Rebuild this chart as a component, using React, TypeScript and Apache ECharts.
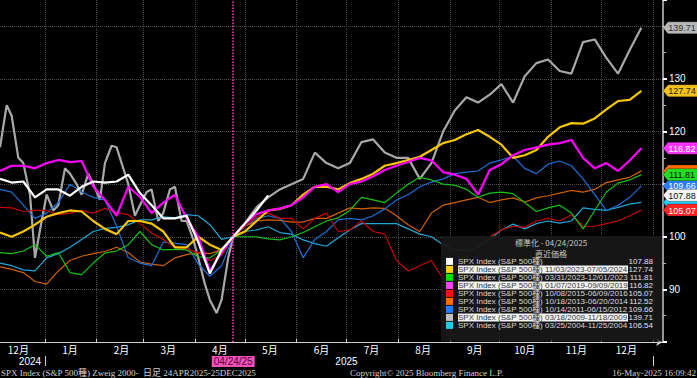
import React, { useEffect, useRef } from "react";
import * as echarts from "echarts";

// ---------- axis categories (calendar days, Dec 5 2024 .. Jan 7 2026) ----------
const START_UTC = Date.UTC(2024, 11, 5);
const DAY_MS = 86400000;
const DAY_COUNT = 399;
const SAMPLE_STEP = 7; // one value per week, starting at the first category
const MID_OFFSET = 4; // mid-week extra readings (only for the very jagged 2009 line)

const pad = (n: number) => (n < 10 ? "0" + n : "" + n);
const categories: string[] = Array.from({ length: DAY_COUNT }, (_, i) => {
  const d = new Date(START_UTC + i * DAY_MS);
  return `${d.getUTCFullYear()}-${pad(d.getUTCMonth() + 1)}-${pad(d.getUTCDate())}`;
});

const monthLabels = ["1月", "2月", "3月", "4月", "5月", "6月", "7月", "8月", "9月", "10月", "11月", "12月"];
const monthLabelDay = "16";
const yearLabelAt: Record<string, string> = { "2024-12-23": "2024", "2025-07-01": "2025" };
const anchorDate = "2025-04-24";
const anchorLabel = "04/24/25";

// ---------- y axis ----------
const yMin = 80;
const yMax = 145;
const yInterval = 10;

// ---------- series (normalised to 100 on 04/24/2025), weekly samples ----------
const currentSpx = [111, 110.3, 110.5, 107.5, 109, 109, 107.8, 109.5, 110.5, 110.3,
  110.5, 111.8, 108.3, 106, 103.5, 103.5, 104, 99, 93, 97.5,
  100, 102.5, 105, 107.88];
const analog2023b = [100.8, 100, 101, 102.3, 103.8, 104.5, 105, 104.8, 103, 101.5,
  100.5, 103, 103, 102.5, 101, 98, 98, 100, 98.5, 97.5,
  100, 101, 103, 105, 105.3, 106, 108, 109.5, 109.5, 109,
  110.2, 111, 112, 113.5, 114, 114.6, 115.2, 116.5, 117.8, 118.4,
  119.5, 120.3, 119, 117.5, 115, 115.5, 116.5, 119, 120.8, 121.6,
  121.5, 122.5, 124.2, 125.8, 126, 127.74];
const analog2023a = [97, 96.8, 97.3, 98.5, 96.3, 97, 93.2, 92.8, 95, 96.9,
  97.3, 98.5, 101, 98.5, 97.5, 97.6, 97.5, 96.2, 96, 97.5,
  100, 100, 100, 99.6, 99.4, 100, 100.8, 101.9, 103, 103.6,
  105, 107.5, 107, 106.5, 108.3, 110, 111.3, 110.8, 110, 109.8,
  109, 107.5, 108.3, 108.5, 108.2, 106.5, 104.8, 105.5, 106, 104.5,
  101.5, 105, 108.5, 110.2, 110.8, 111.81];
const analog2019 = [112.5, 113.5, 113.5, 113, 114, 114.6, 114.2, 114.4, 109.5, 107,
  104, 109.5, 107.6, 104.5, 106.5, 108, 103.5, 100, 93.5, 97,
  100, 102.5, 104.3, 105, 105.4, 106, 107.5, 109.5, 110, 108.5,
  110, 110.5, 111.5, 112.7, 113.5, 114.2, 115, 114.5, 112.3, 111.8,
  111, 108, 112.7, 113.8, 115.5, 116.5, 117, 117.5, 117.8, 118.4,
  115, 113, 114, 112.5, 114.5, 116.82];
const analog2015 = [105.6, 105.5, 104.8, 105, 105, 104.2, 104.5, 105, 104.5, 105.4,
  104.6, 104.2, 102.5, 100.7, 99.5, 98, 97.7, 97, 95.5, 96.5,
  100, 102, 103.8, 104.5, 103.5, 103.5, 101.5, 103.5, 104.5, 101,
  101.3, 103, 101, 100.5, 95.5, 93.5, 94.5, 95.5, 92, 94.5,
  96.5, 98.5, 100, 101.3, 102, 101.8, 103, 103.5, 103, 104.2,
  102, 102, 102.5, 103, 104, 105.07];
const analog2013 = [94.3, 93.8, 93.2, 91.5, 91, 93.5, 95.5, 96.3, 96.8, 97.2,
  98, 97, 95.2, 94.8, 94.5, 96, 96.6, 97, 96.8, 97.5,
  100, 102, 103, 103.2, 103.1, 102.8, 102.8, 103.5, 103.5, 104.5,
  105.5, 105.3, 105.5, 105.4, 104, 102.3, 101, 104.5, 106, 106.5,
  107, 107.5, 106.5, 107, 107.4, 106.6, 107.4, 107.8, 108.3, 108.8,
  108.5, 109, 110.3, 110.8, 111.3, 112.52];
const analog2011 = [109, 108.5, 106, 103.5, 104.5, 106.5, 110, 108.5, 107.5, 107,
  102, 96, 95, 94.5, 99, 98.8, 98.5, 94.8, 92.5, 94.5,
  100, 102, 103.5, 104, 103.5, 101, 96, 99.5, 101, 103.2,
  103.5, 103.2, 104, 105.3, 107, 108, 109.5, 110.4, 111, 112,
  112.3, 112.5, 114, 114.6, 115.3, 113, 112, 113.8, 114.4, 113.5,
  111, 108, 105, 106, 107.5, 109.66];
const analog2009 = [117, 123, 114, 96, 108, 106, 112, 108, 110, 114,
  117, 110, 106, 109, 104.5, 109.5, 103, 96, 88, 88,
  100, 102.6, 105.6, 107.5, 109, 110, 111, 116, 114, 113,
  114, 118, 118.5, 116, 115, 115, 111, 114, 120, 124,
  126.5, 125.5, 127, 129, 125.5, 130.5, 133, 133.7, 131.5, 131,
  137, 137.5, 134, 131, 135.5, 139.71];
// mid-week readings of the 2009 line (4 days after each weekly sample), Dec-Apr part
const analog2009Mid = [125, 115, 108, 103, 105, 113, 110, 112, 107, 117.3,
  113, 104, 108.5, 103, 109, 103, 99.5, 91, 85.5, 96];
const analog2004 = [95, 94.5, 93.7, 93.5, 96, 96.8, 98, 99.5, 101, 101.6,
  101.8, 102.3, 103.2, 103.2, 103.8, 103.6, 104.2, 104, 102.3, 99.5,
  100, 101, 101.3, 101.9, 100.8, 100.5, 99.4, 98.7, 98.2, 99.8,
  101.3, 102.5, 102.5, 102.5, 102.5, 101.5, 100.5, 100, 98.5, 97.5,
  97.3, 98, 99.5, 101.3, 102.4, 101.5, 102.5, 103, 102.6, 103,
  105.5, 105.2, 105, 105.6, 106.2, 106.54];

const seriesNames = [
  "SPX Index (S&P 500種)",
  "SPX Index (S&P 500種) 11/03/2023-07/05/2024",
  "SPX Index (S&P 500種) 03/31/2023-12/01/2023",
  "SPX Index (S&P 500種) 01/07/2019-09/09/2019",
  "SPX Index (S&P 500種) 10/08/2015-06/09/2016",
  "SPX Index (S&P 500種) 10/18/2013-06/20/2014",
  "SPX Index (S&P 500種) 10/14/2011-06/15/2012",
  "SPX Index (S&P 500種) 03/18/2009-11/18/2009",
  "SPX Index (S&P 500種) 03/25/2004-11/25/2004",
];
const seriesValues = [currentSpx, analog2023b, analog2023a, analog2019, analog2015, analog2013, analog2011, analog2009, analog2004];
const seriesMidValues: (number[] | null)[] = [null, null, null, null, null, null, null, analog2009Mid, null];
const lineColors = ["#ffffff", "#f7c600", "#14c214", "#ff00ff", "#c80000", "#d06000", "#1a6fd8", "#a8a8a8", "#22a6d6"];
const swatchColors = ["#ffffff", "#ffcc22", "#00e000", "#ff44ff", "#ff1010", "#ff6a00", "#1a80ff", "#c0c0c0", "#22c8f0"];
const lineWidths = [2.2, 2.2, 1.2, 2.2, 1.2, 1.2, 1.2, 2.2, 1.2];
const highlightedRows = [1, 3, 7];
const drawOrder = [7, 8, 5, 6, 4, 2, 1, 3, 0];
const tagFill = ["#f6f6f6", "#f2c21a", "#22dd22", "#ff33ff", "#ff2222", "#ff6a00", "#2c7cff", "#b8b8b8", "#22c8f0"];
const tagText = ["#111111", "#222222", "#111111", "#ffffff", "#ffffff", "#222222", "#ffffff", "#333333", "#111111"];
const tagOrder = [5, 8, 6, 2, 0, 4, 3, 1, 7];
const hiddenTagText = [5, 8]; // fully covered by the neighbouring tags

const legendTitle = "標準化 - 04/24/2025";
const legendSubtitle = "直近価格";
const footerLeft = "SPX Index (S&P 500種) Zweig 2000-  日足 24APR2025-25DEC2025";
const footerMid = "Copyright© 2025 Bloomberg Finance L.P.";
const footerRight = "16-May-2025 16:09:42";

const FONT_SANS = '"Liberation Sans", "Noto Sans CJK JP", sans-serif';
const FONT_CJK = '"Noto Sans CJK JP", "Liberation Sans", sans-serif';
const FONT_SERIF = '"Liberation Serif", "Noto Sans CJK JP", serif';

const GRID_RIGHT = 34;
const GRID_BOTTOM = 36;

const lastValue = (i: number) => seriesValues[i][seriesValues[i].length - 1];
const dayOf = (i: number) => categories[i].slice(8, 10);

function seriesData(i: number) {
  const pts: [number, number][] = seriesValues[i].map((v, k) => [k * SAMPLE_STEP, v] as [number, number]);
  const mid = seriesMidValues[i];
  if (mid) mid.forEach((v, k) => pts.push([k * SAMPLE_STEP + MID_OFFSET, v]));
  pts.sort((a, b) => a[0] - b[0]);
  return pts;
}

function buildOption() {
  const series = drawOrder.map((i) => ({
    type: "line",
    name: seriesNames[i],
    data: seriesData(i),
    symbol: "none",
    showSymbol: false,
    smooth: false,
    itemStyle: { color: swatchColors[i] },
    lineStyle: { color: lineColors[i], width: lineWidths[i] },
    emphasis: { disabled: true },
    markLine:
      i === 0
        ? {
            silent: true,
            symbol: ["none", "none"],
            data: [{ xAxis: anchorDate }],
            lineStyle: { color: "#ff3cc4", type: "dotted", width: 1.5 },
            label: {
              show: true,
              position: "start",
              formatter: anchorLabel,
              backgroundColor: "#f052b8",
              color: "#5a0038",
              fontSize: 10,
              fontFamily: FONT_SANS,
              padding: [1, 2, 0, 2],
              distance: 14,
            },
          }
        : undefined,
  }));

  const rich = {
    n: { width: 170, color: "#d8d8d8", fontSize: 8, lineHeight: 8.6, fontFamily: FONT_SANS },
    h: { width: 170, color: "#3a3a3a", backgroundColor: "#f2f2f2", fontSize: 8, lineHeight: 8.6, fontFamily: FONT_SANS },
    v: { width: 25, align: "right", color: "#e0e0e0", fontSize: 8, lineHeight: 8.6, fontFamily: FONT_SANS },
  };

  const lastValues = seriesValues.map((_, i) => lastValue(i));

  return {
    animation: false,
    backgroundColor: "#000000",
    grid: { left: 0, right: GRID_RIGHT, top: 0, bottom: GRID_BOTTOM, containLabel: false },
    legend: {
      data: seriesNames.map((n, i) => ({ name: n, itemStyle: { color: swatchColors[i] } })),
      orient: "vertical",
      left: 446,
      top: 257.4,
      itemWidth: 7,
      itemHeight: 7,
      itemGap: 0,
      padding: 0,
      icon: "rect",
      selectedMode: false,
      z: 6,
      formatter: (name: string) => {
        const i = seriesNames.indexOf(name);
        const s = highlightedRows.indexOf(i) >= 0 ? "h" : "n";
        return `{${s}|${name}}{v|${lastValue(i).toFixed(2)}}`;
      },
      textStyle: { rich },
    },
    xAxis: [
      {
        type: "category",
        data: categories,
        boundaryGap: false,
        axisLine: { show: true, lineStyle: { color: "#d0d0d0", width: 1.2 }, symbol: ["none", "arrow"], symbolSize: [6, 7] },
        axisTick: {
          show: true,
          inside: true,
          length: 3,
          interval: (i: number) => dayOf(i) === "01",
          lineStyle: { color: "#d0d0d0" },
        },
        axisLabel: {
          show: true,
          interval: (i: number) => dayOf(i) === monthLabelDay,
          formatter: (v: string) => monthLabels[parseInt(v.slice(5, 7), 10) - 1],
          color: "#ffffff",
          fontSize: 10,
          fontFamily: FONT_CJK,
          margin: 2,
        },
        splitLine: {
          show: true,
          interval: (i: number) => dayOf(i) === "01",
          lineStyle: { color: "#4c4c4c", type: "dotted", width: 1 },
        },
      },
      {
        type: "category",
        data: categories,
        boundaryGap: false,
        position: "bottom",
        offset: 14,
        axisLine: { show: false },
        axisTick: {
          show: true,
          length: 10,
          interval: (i: number) => categories[i].slice(5) === "01-01",
          lineStyle: { color: "#d0d0d0" },
        },
        axisLabel: {
          show: true,
          interval: (i: number) => yearLabelAt[categories[i]] !== undefined,
          formatter: (v: string) => yearLabelAt[v] || "",
          color: "#ffffff",
          fontSize: 10,
          fontFamily: FONT_SANS,
          margin: 0,
        },
        splitLine: { show: false },
      },
    ],
    yAxis: {
      type: "value",
      position: "right",
      min: yMin,
      max: yMax,
      interval: yInterval,
      axisLine: { show: true, lineStyle: { color: "#c8c8c8", width: 1.5 } },
      axisTick: { show: true, length: 4, lineStyle: { color: "#ffffff", width: 2 } },
      minorTick: { show: true, splitNumber: 2, length: 3, lineStyle: { color: "#bbbbbb" } },
      axisLabel: {
        color: "#ffffff",
        fontSize: 10,
        fontFamily: FONT_SANS,
        margin: 6,
        showMinLabel: false,
        showMaxLabel: false,
        // labels sitting under a last-value tag are not visible in the original
        formatter: (v: number) => (lastValues.some((lv) => Math.abs(lv - v) < 2) ? "" : String(v)),
      },
      splitLine: { show: true, showMinLine: false, showMaxLine: false, lineStyle: { color: "#4c4c4c", type: "dotted", width: 1 } },
    },
    series,
  };
}

function textEl(text: string, x: number, y: number, align: string, fill: string, size: number, family: string, z: number) {
  return {
    type: "text",
    x,
    y,
    z,
    silent: true,
    style: {
      text,
      fill,
      fontSize: size,
      fontFamily: family,
      textAlign: align,
      textVerticalAlign: "middle",
      align,
      verticalAlign: "middle",
    },
  };
}

export default function App() {
  const ref = useRef<HTMLDivElement>(null);
  useEffect(() => {
    document.body.style.margin = "0";
    const chart = echarts.init(ref.current as HTMLDivElement, null, { renderer: "svg" });
    chart.setOption(buildOption() as any);

    const W = chart.getWidth();
    const H = chart.getHeight();
    const axisX = W - GRID_RIGHT;
    const plotBottom = H - GRID_BOTTOM;

    const graphics: any[] = [
      {
        type: "rect",
        z: 5,
        silent: true,
        shape: { x: 441, y: 236, width: axisX - 441 - 1, height: plotBottom - 236 - 0.5 },
        style: { fill: "rgba(24,24,24,0.92)" },
      },
      textEl(legendTitle, 551, 242.8, "center", "#c8c8c8", 8, FONT_CJK, 7),
      textEl(legendSubtitle, 551, 253.6, "center", "#c8c8c8", 8, FONT_CJK, 7),
      textEl(footerLeft, 1, 373, "left", "#cfcfcf", 9, FONT_SERIF, 7),
      textEl(footerMid, 350, 373, "left", "#cfcfcf", 9, FONT_SERIF, 7),
      textEl(footerRight, W - 1, 373, "right", "#cfcfcf", 9, FONT_SERIF, 7),
    ];

    tagOrder.forEach((i, n) => {
      const py = chart.convertToPixel({ yAxisIndex: 0 }, lastValue(i)) as number;
      const z = 20 + n * 2;
      graphics.push({
        type: "polygon",
        z,
        silent: true,
        shape: { points: [[axisX, py], [axisX + 5, py - 6], [W + 2, py - 6], [W + 2, py + 6], [axisX + 5, py + 6]] },
        style: { fill: tagFill[i], stroke: "rgba(0,0,0,0.35)", lineWidth: 0.8 },
      });
      if (hiddenTagText.indexOf(i) < 0) {
        graphics.push(textEl(lastValue(i).toFixed(2), axisX + 19, py + 0.5, "center", tagText[i], 9, FONT_SANS, z + 1));
      }
    });

    chart.setOption({ graphic: graphics });
    return () => chart.dispose();
  }, []);
  return <div ref={ref} style={{ position: "fixed", left: 0, top: 0, width: 697, height: 378 }} />;
}
